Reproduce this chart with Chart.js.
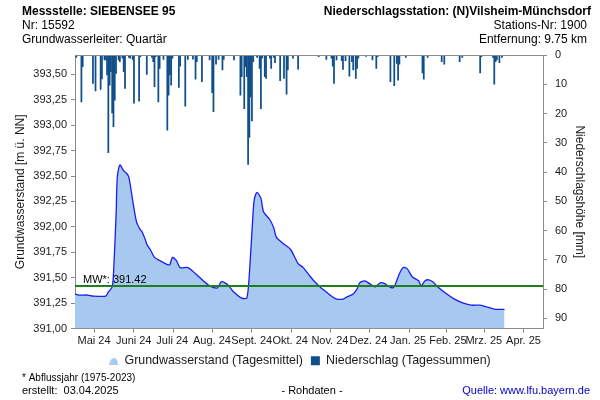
<!DOCTYPE html>
<html><head><meta charset="utf-8">
<script src="https://cdn.jsdelivr.net/npm/chart.js@4"></script>
<style>html,body{margin:0;padding:0;background:#fff;} #wrap{width:600px;height:400px;position:relative;}</style>
</head><body><div id="wrap"><canvas id="c" width="600" height="400"></canvas></div>
<script>
// ---- data (day index: 0 = 1 May 2024) ----
const monthStarts = [0,31,61,92,123,153,184,214,245,276,304,335,365];
const monthLabels = ['Mai 24','Juni 24','Juli 24','Aug. 24','Sept. 24','Okt. 24','Nov. 24','Dez. 24','Jan. 25','Feb. 25','Mrz. 25','Apr. 25'];
const leftTicks = [391,391.25,391.5,391.75,392,392.25,392.5,392.75,393,393.25,393.5];
const gwDays = [0,3,10,14,24,26,29,30,32,33,35,38,40,42,45,48,51,52,55,56,59,62,66,72,74,76,79,82,88,94,100,105,111,114,117,120,123,130,134,136,139,140,142,145,147,152,155,157,162,168,174,178,183,187,192,196,201,204,209,212,217,220,222,226,230,234,238,242,244,248,250,253,256,259,263,268,270,273,276,279,283,290,296,303,309,316,322,328,335];
const gwLevels = [391.34,391.33,391.33,391.32,391.32,391.36,391.41,391.54,392.10,392.49,392.61,392.55,392.53,392.49,392.26,392.05,391.97,391.96,391.87,391.83,391.77,391.70,391.67,391.63,391.63,391.70,391.67,391.60,391.60,391.54,391.47,391.42,391.40,391.46,391.45,391.42,391.37,391.30,391.30,391.54,392.16,392.28,392.34,392.28,392.15,392.07,391.99,391.90,391.84,391.78,391.64,391.60,391.52,391.46,391.40,391.36,391.31,391.29,391.29,391.31,391.34,391.39,391.45,391.47,391.44,391.41,391.45,391.44,391.42,391.40,391.44,391.54,391.60,391.59,391.51,391.47,391.42,391.47,391.48,391.46,391.41,391.34,391.29,391.25,391.23,391.23,391.21,391.19,391.19];
const rainDays = [1,5,6,14,16,20,21,23,24,25,26,27,28,29,30,31,32,34,35,37,38,39,42,43,45,46,50,51,56,60,61,62,63,65,66,69,72,73,74,75,76,81,82,86,88,92,94,95,99,105,107,108,110,112,115,116,124,129,130,132,133,134,135,136,137,138,139,142,144,145,146,148,149,152,153,155,156,160,163,165,166,170,174,190,196,200,201,202,204,208,209,211,214,216,217,219,220,221,227,232,235,236,246,249,251,252,253,258,271,272,275,286,288,300,302,316,317,326,327,328,329,331,333];
const rainMm = [0.8,16.0,4.0,9.7,12.3,11.8,8.2,1.7,1.7,6.8,33.4,10.3,5.7,19.8,24.5,15.4,6.3,1.7,2.3,1.1,5.7,11.4,0.8,1.1,1.5,16.5,15.8,0.6,6.6,0.8,2.3,10.8,0.6,16.0,4.6,1.5,25.7,13.7,6.8,10.3,1.1,11.1,3.8,17.5,1.5,1.4,8.3,2.3,9.1,1.7,12.9,19.4,3.1,1.5,5.1,1.5,1.7,13.7,7.4,18.3,4.0,7.4,37.4,28.2,14.3,22.5,2.3,0.8,4.6,18.3,1.1,7.4,8.0,1.1,4.6,0.8,2.6,8.8,8.0,13.4,5.1,1.1,4.8,0.6,1.5,1.1,3.8,9.7,1.7,1.9,4.9,1.9,7.2,2.3,5.1,8.0,4.6,1.1,0.5,1.7,4.6,0.6,9.1,10.5,2.9,8.6,3.1,0.8,6.1,8.3,0.8,2.3,3.1,2.3,0.8,6.1,0.6,0.8,10.0,2.3,1.7,2.6,0.8];
const meanLevel = 391.42;

const FONT = '"Liberation Sans", Arial, sans-serif';
Chart.defaults.font.family = FONT;
Chart.defaults.font.size = 11;
Chart.defaults.color = '#1a1a1a';

const AREA = '#A7C8EF', LINE = '#1C1CF0', BAR = '#114F8A', MEANC = '#1F7F1F', AXIS = '#8a8a8a';

// legend marker for the area series (small hump)
const hump = document.createElement('canvas'); hump.width = 9; hump.height = 9;
(function(){const h = hump.getContext('2d'); h.fillStyle = AREA; h.beginPath();
  h.moveTo(0,9); h.lineTo(1,4); h.quadraticCurveTo(4.5,-1,8,4); h.lineTo(9,9); h.closePath(); h.fill();})();

const texts = {
  id: 'texts',
  afterDraw(chart){
    const ctx = chart.ctx, ca = chart.chartArea, y = chart.scales.y;
    ctx.save();
    ctx.strokeStyle = AXIS; ctx.lineWidth = 1;
    ctx.beginPath(); ctx.moveTo(ca.left, Math.round(ca.top)+0.5); ctx.lineTo(ca.right, Math.round(ca.top)+0.5); ctx.stroke();
    ctx.fillStyle = '#000'; ctx.textBaseline = 'middle';
    ctx.font = 'bold 12px ' + FONT; ctx.textAlign = 'left';
    ctx.fillText('Messstelle: SIEBENSEE 95', 22, 12);
    ctx.textAlign = 'right';
    ctx.fillText('Niederschlagsstation: (N)Vilsheim-Münchsdorf', 591, 12);
    ctx.font = '12px ' + FONT; ctx.textAlign = 'left';
    ctx.fillText('Nr: 15592', 22, 26);
    ctx.fillText('Grundwasserleiter: Quartär', 22, 40);
    ctx.textAlign = 'right';
    ctx.fillText('Stations-Nr: 1900', 587, 26);
    ctx.fillText('Entfernung: 9.75 km', 587, 40);
    // mean label
    ctx.font = '11px ' + FONT; ctx.textAlign = 'left';
    ctx.fillText('MW*: 391.42', ca.left + 8, y.getPixelForValue(meanLevel) - 6);
    // footer
    ctx.font = '10px ' + FONT;
    ctx.fillText('* Abflussjahr (1975-2023)', 22, 378);
    ctx.font = '11px ' + FONT;
    ctx.fillText('erstellt:  03.04.2025', 22, 391);
    ctx.textAlign = 'center';
    ctx.fillText('- Rohdaten -', 312, 391);
    ctx.textAlign = 'right'; ctx.fillStyle = '#0000CC';
    ctx.fillText('Quelle: www.lfu.bayern.de', 590, 391);
    ctx.restore();
  }
};

new Chart(document.getElementById('c'), {
  type: 'line',
  data: {
    datasets: [
      { type: 'line', label: '', data: [{x:0,y:meanLevel},{x:365,y:meanLevel}], borderColor: MEANC, borderWidth: 2,
        pointRadius: 0, fill: false, yAxisID: 'y', order: 0 },
      { type: 'line', label: 'Grundwasserstand (Tagesmittel)', data: gwDays.map((d,i)=>({x:d,y:gwLevels[i]})),
        borderColor: LINE, borderWidth: 1.3, backgroundColor: AREA, fill: 'start', pointRadius: 0, tension: 0.25,
        yAxisID: 'y', order: 2, pointStyle: hump },
      { type: 'bar', label: 'Niederschlag (Tagessummen)', data: rainDays.map((d,i)=>({x:d,y:rainMm[i]})),
        backgroundColor: BAR, borderWidth: 0, barThickness: 1.1, yAxisID: 'y2', order: 1, pointStyle: 'rect' }
    ]
  },
  options: {
    responsive: false, animation: false, devicePixelRatio: 1,
    layout: { padding: { top: 55, left: 0, right: 0, bottom: 23 } },
    plugins: {
      tooltip: { enabled: false },
      legend: { position: 'bottom',
        labels: { usePointStyle: true, boxWidth: 9, boxHeight: 9, padding: 8, color: '#1a1a1a', font: { size: 12.4 },
          filter: it => it.text !== '', sort: (a, b) => a.datasetIndex - b.datasetIndex } }
    },
    scales: {
      x: { type: 'linear', min: 0, max: 365, offset: false,
        afterBuildTicks: s => { s.ticks = monthStarts.map(v => ({ value: v })); },
        afterFit: s => { s.height = 18; },
        ticks: { autoSkip: false, maxRotation: 0, minRotation: 0, labelOffset: 19, padding: 2,
          callback: (v, i) => monthLabels[i] || '' },
        grid: { drawOnChartArea: false, tickLength: 4, color: AXIS },
        border: { color: AXIS } },
      y: { position: 'left', min: 391, max: 393.69,
        afterBuildTicks: s => { s.ticks = leftTicks.map(v => ({ value: v })); },
        afterFit: s => { s.width = 75; },
        ticks: { padding: 4, callback: v => v.toFixed(2).replace('.', ',') },
        grid: { drawOnChartArea: false, tickLength: 4, color: AXIS },
        border: { color: AXIS },
        title: { display: true, text: 'Grundwasserstand [m ü. NN]', font: { size: 12 }, color: '#1a1a1a', padding: { top: 13, bottom: 0 } } },
      y2: { position: 'right', min: 0, max: 93.5, reverse: true,
        ticks: { stepSize: 10, includeBounds: false, padding: 8 },
        afterFit: s => { s.width = 57; },
        grid: { drawOnChartArea: false, tickLength: 4, color: AXIS },
        border: { color: AXIS },
        title: { display: true, text: 'Niederschlagshöhe [mm]', font: { size: 12 }, color: '#1a1a1a', padding: { top: 13, bottom: 0 } } }
    }
  },
  plugins: [texts]
});
</script></body></html>
